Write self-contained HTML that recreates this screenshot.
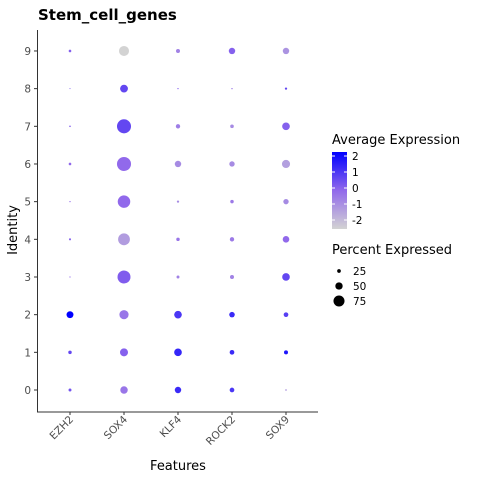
<!DOCTYPE html>
<html><head><meta charset="utf-8"><style>
body{margin:0;background:#fff;font-family:"Liberation Sans","DejaVu Sans",sans-serif}
svg text{font-family:"DejaVu Sans","Liberation Sans",sans-serif}
</style></head><body>
<svg id="chart" width="480" height="480" xmlns="http://www.w3.org/2000/svg">
<defs><linearGradient id="cb" x1="0" y1="1" x2="0" y2="0">
<stop offset="0" stop-color="#d3d3d3"/><stop offset="0.5" stop-color="#9169eb"/><stop offset="1" stop-color="#0000ff"/></linearGradient></defs>
<text x="38" y="20" font-size="15" font-weight="bold" fill="#000">Stem_cell_genes</text>
<g id="plot"></g>
<text transform="translate(17,230) rotate(-90)" text-anchor="middle" font-size="13">Identity</text>
<text x="178" y="470" text-anchor="middle" font-size="13">Features</text>
<g>
<text x="332" y="144" font-size="13">Average Expression</text>
<rect x="332" y="152" width="15" height="77" fill="url(#cb)"/>
</g>
<g>
<text x="332" y="254" font-size="13">Percent Expressed</text>
</g>
</svg>
<script>
const genes=["EZH2","SOX4","KLF4","ROCK2","SOX9"];
const clusters=["0","1","2","3","4","5","6","7","8","9"];
const pctEZH2=[17,20,40,7,12,7,15,9,6,15];
const pctSOX4=[43,46,53,75,68,72,81,81,45,58];
const pctKLF4=[37,44,44,17,20,13,37,25,7,23];
const pctROCK2=[27,27,32,23,25,20,31,21,8,37];
const pctSOX9=[10,23,27,44,38,31,47,44,13,37];
const expEZH2=[0.5,0.8,2.5,0,0.2,0,0,0.3,0.5,0.2];
const expSOX4=[-0.3,0.2,-0.3,0.3,-1.2,0,0,0.8,0.8,-2.5];
const expKLF4=[1.5,1.6,1.2,-0.6,-0.3,-0.8,-0.8,-0.5,0.3,-0.6];
const expROCK2=[1.2,1.5,1.5,-0.6,-0.4,-0.4,-0.8,-0.8,-0.5,0.2];
const expSOX9=[-1.2,2.0,1.0,0.8,0,-0.8,-1.3,0.2,0.8,-1.0];
const cbTicks=[2,1,0,-1,-2];
const sizeTicks=[25,50,75];
const pcts=[pctEZH2,pctSOX4,pctKLF4,pctROCK2,pctSOX9];
const exps=[expEZH2,expSOX4,expKLF4,expROCK2,expSOX9];
const NS="http://www.w3.org/2000/svg";
const svg=document.getElementById('chart');const g=document.getElementById('plot');
function mk(t,a,p){const e=document.createElementNS(NS,t);for(const k in a)e.setAttribute(k,a[k]);(p||g).appendChild(e);return e;}
const xS=i=>70+i*54;
const yS=i=>390-i*37.67;
const rS=p=>p/75*6.5;
function col(v){let t=Math.max(0,Math.min(1,(v+2.5)/5));const A=[211,211,211],M=[145,105,235],B=[0,0,255];let c=[];
for(let k=0;k<3;k++)c.push(Math.round(t<0.5?A[k]+(M[k]-A[k])*t*2:M[k]+(B[k]-M[k])*(t-0.5)*2));return`rgb(${c})`;}
let ax=mk('line',{x1:37,y1:412,x2:318,y2:412,stroke:'#333','stroke-width':1});


let ay=mk('line',{x1:37.5,y1:30,x2:37.5,y2:412,stroke:'#333','stroke-width':1});


clusters.forEach((c,i)=>{
 mk('line',{x1:34,x2:37,y1:yS(i),y2:yS(i),stroke:'#333'});
 const t=mk('text',{x:31,y:yS(i)+4,'text-anchor':'end','font-size':10.5,fill:'#4d4d4d'});t.textContent=c;
 
 
});
genes.forEach((gn,j)=>{
 mk('line',{x1:xS(j),x2:xS(j),y1:412,y2:415,stroke:'#333'});
 const t=mk('text',{transform:`translate(${xS(j)+4},${420}) rotate(-45)`,'text-anchor':'end','font-size':10.5,fill:'#4d4d4d'});t.textContent=gn;
 
 
 clusters.forEach((c,i)=>{
  const d=mk('circle',{cx:xS(j),cy:yS(i),r:rS(pcts[j][i]),fill:col(exps[j][i])});
  
  
 });
});
cbTicks.forEach(v=>{const y=188-v*16;
 mk('line',{x1:332,x2:335,y1:y,y2:y,stroke:'#fff'},svg);mk('line',{x1:344,x2:347,y1:y,y2:y,stroke:'#fff'},svg);
 const t=mk('text',{x:352,y:y+4,'font-size':10.5},svg);t.textContent=v;
 
 
});
sizeTicks.forEach((v,i)=>{const y=271+i*15;
 const c=mk('circle',{cx:339,cy:y,r:rS(v)*0.85,fill:'#000'},svg);
 
 
 const t=mk('text',{x:353,y:y+4,'font-size':10.5},svg);t.textContent=v;
 
 
});
</script>
</body></html>
